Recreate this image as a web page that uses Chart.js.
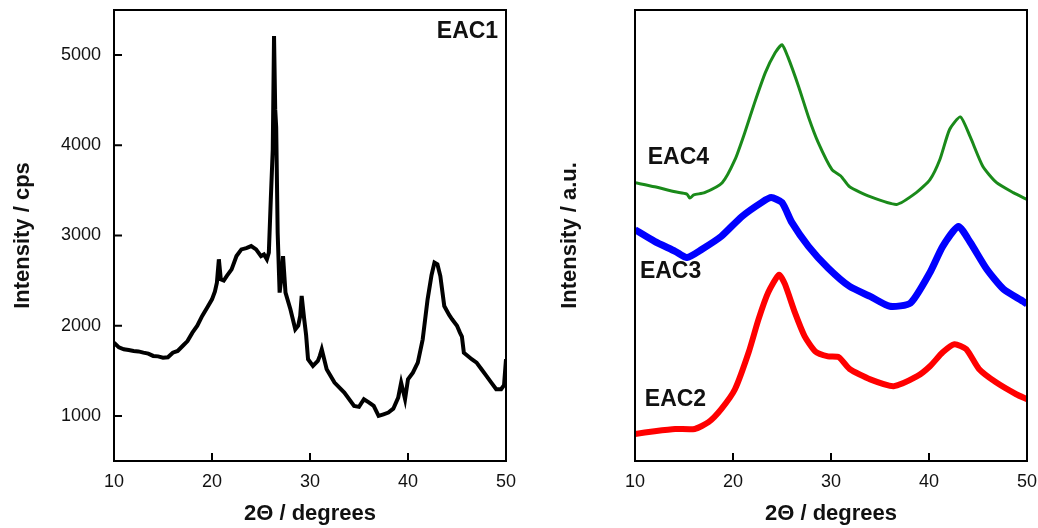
<!DOCTYPE html>
<html><head><meta charset="utf-8">
<script src="https://cdn.jsdelivr.net/npm/chart.js@4.4.1/dist/chart.umd.min.js"></script>
<style>
html,body{margin:0;padding:0;background:#fff;}
#w1{position:absolute;left:0;top:0;width:519px;height:528px;}
#w2{position:absolute;left:519px;top:0;width:519px;height:528px;}
</style></head><body>
<div id="w1"><canvas id="c1"></canvas></div>
<div id="w2"><canvas id="c2"></canvas></div>
<script>
// ---- data ----
const xTicks = [10, 20, 30, 40, 50];
const yTicksLeft = [1000, 2000, 3000, 4000, 5000];

const eac1X = [10,10.5,11,11.5,12,12.5,13,13.5,14,14.5,15,15.5,16,16.5,17,17.5,18,18.5,19,19.5,20,20.3,20.5,20.7,20.9,21.2,21.5,22,22.5,23,23.5,24,24.5,25,25.3,25.6,25.8,26,26.2,26.33,26.45,26.55,26.7,26.9,27.1,27.25,27.5,28,28.5,28.8,29,29.15,29.4,29.6,29.8,30.3,30.8,31,31.2,31.7,32.5,33.5,34.5,35,35.5,36,36.5,37,37.5,38,38.5,39,39.3,39.7,40,40.5,41,41.5,42,42.4,42.7,43,43.3,43.7,44.2,44.5,45,45.3,45.5,45.7,46.5,47,47.5,48,48.5,49,49.5,49.8,50];
const eac1Y = [1812,1760,1738,1730,1720,1715,1701,1690,1665,1660,1646,1650,1701,1720,1775,1830,1923,2000,2108,2200,2292,2380,2477,2736,2514,2500,2550,2624,2772,2846,2860,2883,2846,2772,2790,2736,2810,3401,3955,5211,4398,4200,3031,2367,2550,2772,2367,2182,1960,2000,2108,2330,2080,1900,1628,1554,1610,1665,1738,1517,1369,1258,1111,1100,1185,1150,1111,1000,1018,1037,1080,1203,1369,1185,1406,1480,1591,1849,2292,2560,2699,2680,2550,2218,2120,2071,2000,1923,1880,1701,1628,1591,1517,1443,1369,1295,1295,1340,1628];

const eac4X = [10,12.0,14.1,15.3,15.6,16,17.1,18.9,20.2,21.2,22.2,23.3,24.3,25.0,25.6,26.7,27.7,28.7,30.1,31.0,31.9,34.0,36.7,38.7,40.1,41.1,42.1,43.2,44.2,45.5,46.9,48.6,50];
const eac4Y = [61.7,60.8,59.7,59.2,58.3,59.0,59.5,61.7,66.8,72.8,79.4,86.1,90.5,92.3,89.6,83.0,76.3,70.6,64.6,63.2,60.8,58.6,56.9,59.5,62.4,66.8,73.5,76.3,71.9,65.3,61.7,59.5,58.0];

const eac3X = [10,12,14.1,15.3,16.8,18.8,20.9,22.9,23.9,25,26,27.7,29.7,31.9,34,36,38.1,40.1,41.4,43,44.2,45.9,47.6,49.6,50];
const eac3Y = [51.3,48.7,46.5,45.1,46.9,49.8,54.2,57.3,58.4,57.3,52.9,47.6,42.8,38.7,36.5,34.3,35.0,41.8,47.6,52.0,48.5,42.5,38.1,35.4,34.8];

const eac2X = [10,12,14.1,16.1,17.5,18.8,20.2,21.6,22.6,23.6,24.7,25.3,26.3,27.3,28.4,29.7,30.8,31.9,34,36.4,38.8,40.1,41.4,42.6,43.8,45.1,46.8,48.9,50];
const eac2Y = [6.0,6.6,7.1,7.1,8.6,11.5,15.9,24.1,31.4,37.4,41.3,39.2,33.0,27.7,24.3,23.2,23.0,20.4,18.1,16.6,18.8,21.0,24.1,25.9,24.8,20.4,17.5,14.8,13.7];

const labelsRight = [
  {text:'EAC4', x:11.3, y:67.2},
  {text:'EAC3', x:10.5, y:42.0},
  {text:'EAC2', x:11.0, y:13.7}
];
const labelLeft = {text:'EAC1', x:49.2, y:5263};

// ---- helpers ----
const FONT = "'Liberation Sans', Arial, sans-serif";
function pts(xs, ys){ return xs.map((x,i)=>({x, y:ys[i]})); }

const framePlugin = (yTicks, labels, align) => ({
  id:'frame',
  afterDraw(chart){
    const {ctx, chartArea:a, scales} = chart;
    ctx.save();
    ctx.strokeStyle='#000'; ctx.lineWidth=2;
    ctx.strokeRect(a.left, a.top, a.right-a.left, a.bottom-a.top);
    ctx.beginPath();
    xTicks.forEach(v=>{ const px=scales.x.getPixelForValue(v); ctx.moveTo(px,a.bottom); ctx.lineTo(px,a.bottom-8); });
    yTicks.forEach(v=>{ const py=scales.y.getPixelForValue(v); ctx.moveTo(a.left,py); ctx.lineTo(a.left+8,py); });
    ctx.stroke();
    ctx.fillStyle='#111';
    ctx.font = "bold 23px " + FONT;
    ctx.textBaseline='middle';
    ctx.textAlign=align;
    labels.forEach(l=>{ ctx.fillText(l.text, scales.x.getPixelForValue(l.x), scales.y.getPixelForValue(l.y)); });
    ctx.restore();
  }
});

function xScale(){
  return {
    type:'linear', min:10, max:50,
    afterBuildTicks(s){ s.ticks = xTicks.map(v=>({value:v})); },
    afterFit(s){ s.height = 67; s.paddingLeft = 0; s.paddingRight = 0; },
    grid:{display:false, drawTicks:false},
    border:{display:false},
    ticks:{color:'#111', font:{family:FONT, size:18}, padding:10, maxRotation:0, callback:v=>String(v)},
    title:{display:true, text:'2Θ / degrees', color:'#111', font:{family:FONT, size:22, weight:'bold'}, padding:{top:0,bottom:1}}
  };
}

Chart.defaults.animation = false;

new Chart(document.getElementById('c1'), {
  type:'scatter',
  data:{datasets:[{data:pts(eac1X,eac1Y), showLine:true, borderColor:'#000', borderWidth:4, pointRadius:0, tension:0}]},
  options:{
    responsive:true, maintainAspectRatio:false,
    layout:{padding:{top:10, right:13, left:0, bottom:0}},
    plugins:{legend:{display:false}, tooltip:{enabled:false}},
    scales:{
      x:xScale(),
      y:{
        type:'linear', min:500, max:5500,
        afterBuildTicks(s){ s.ticks = yTicksLeft.map(v=>({value:v})); },
        afterFit(s){ s.width = 114; s.paddingTop = 0; s.paddingBottom = 0; },
        grid:{display:false, drawTicks:false},
        border:{display:false},
        ticks:{color:'#111', font:{family:FONT, size:18}, padding:13, callback:v=>String(v)},
        title:{display:true, text:'Intensity / cps', color:'#111', font:{family:FONT, size:22, weight:'bold'}, padding:{top:10,bottom:0}}
      }
    }
  },
  plugins:[framePlugin(yTicksLeft, [labelLeft], 'right')]
});

new Chart(document.getElementById('c2'), {
  type:'scatter',
  data:{datasets:[
    {data:pts(eac2X,eac2Y), showLine:true, borderColor:'#ff0000', borderWidth:6, pointRadius:0, tension:0.2},
    {data:pts(eac3X,eac3Y), showLine:true, borderColor:'#0000ff', borderWidth:7, pointRadius:0, tension:0.2},
    {data:pts(eac4X,eac4Y), showLine:true, borderColor:'#1a8a1a', borderWidth:3, pointRadius:0, tension:0.2}
  ]},
  options:{
    responsive:true, maintainAspectRatio:false,
    layout:{padding:{top:10, right:11, left:0, bottom:0}},
    plugins:{legend:{display:false}, tooltip:{enabled:false}},
    scales:{
      x:xScale(),
      y:{
        type:'linear', min:0, max:100,
        afterFit(s){ s.width = 116; s.paddingTop = 0; s.paddingBottom = 0; },
        grid:{display:false, drawTicks:false},
        border:{display:false},
        ticks:{display:false},
        title:{display:true, text:'Intensity / a.u.', color:'#111', font:{family:FONT, size:22, weight:'bold'}, padding:{top:38,bottom:0}}
      }
    }
  },
  plugins:[framePlugin([], labelsRight, 'left')]
});
</script>
</body></html>
